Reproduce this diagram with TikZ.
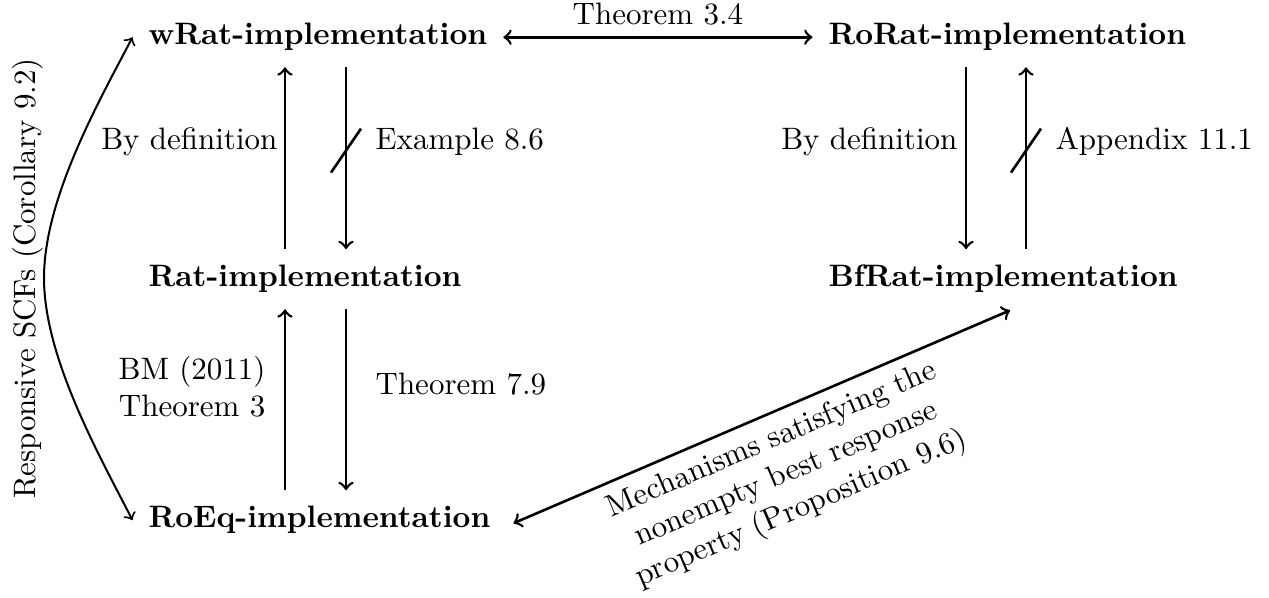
\documentclass[tikz,border=0pt]{standalone}
\usetikzlibrary{calc}
\begin{document}
\begin{tikzpicture}[x=0.3226pt, y=-0.3226pt,
  impl/.style={font=\bfseries, inner sep=5pt, text height=7pt, text depth=2pt, anchor=base west},
  lbl/.style={inner sep=0pt},
  arr/.style={->, line width=0.85pt},
  darr/.style={<->, line width=0.85pt},
  curvearr/.style={<->, line width=0.65pt},
  slashmark/.style={line width=0.85pt}]
\useasboundingbox (0,0) rectangle (1269,598);

% nodes
\node[impl] (wrat)  at (132.5,45)  {wRat-implementation};
\node[impl] (rat)   at (132.5,287) {Rat-implementation};
\node[impl] (roeq)  at (132.5,528) {RoEq-implementation};
\node[impl] (rorat) at (812.5,45)  {RoRat-implementation};
\node[impl] (bfrat) at (812.5,287) {BfRat-implementation};

% x positions of vertical connectors
\coordinate (cA) at (285,0);
\coordinate (cB) at (346,0);
\coordinate (cC) at (966,0);
\coordinate (cD) at (1026,0);

% top horizontal
\draw[darr] (wrat.east) -- (rorat.west) node[midway, above] {Theorem 3.4};

% left upper pair
\draw[arr] (rat.north -| cA) -- (wrat.south -| cA);
\draw[arr] (wrat.south -| cB) -- coordinate[pos=0.458] (sB) (rat.north -| cB);
\draw[slashmark] ($(sB)+(-15,22)$) -- ($(sB)+(15,-22)$);
\node[lbl, anchor=base east] (l1) at (278,150) {By definition};
\node[lbl, anchor=base west] (l2) at (375,150) {Example 8.6};

% left lower pair
\draw[arr] (roeq.north -| cA) -- (rat.south -| cA);
\draw[arr] (rat.south -| cB) -- (roeq.north -| cB);
\node[lbl, anchor=base east, align=right] (l3) at (266,417) {BM (2011)\\Theorem 3};
\node[lbl, anchor=base west] (l4) at (375,395) {Theorem 7.9};

% right pair
\draw[arr] (rorat.south -| cC) -- (bfrat.north -| cC);
\draw[arr] (bfrat.north -| cD) -- coordinate[pos=0.542] (sD) (rorat.south -| cD);
\draw[slashmark] ($(sD)+(-15,22)$) -- ($(sD)+(15,-22)$);
\node[lbl, anchor=base east] (l5) at (958,150) {By definition};
\node[lbl, anchor=base west] (l6) at (1055,150) {Appendix 11.1};

% diagonal
\draw[darr] ($(roeq.east)+(7,3)$) -- ($(bfrat.south)+(7,1)$)
  node[midway, below, sloped, align=center] {Mechanisms satisfying the\\nonempty best response\\property (Proposition 9.6)};

% curved connector
\draw[curvearr] (wrat.west) .. controls (99.7,100) and (44,198) .. (44,278)
  .. controls (44,358) and (99.7,456) .. (roeq.west);
\node[lbl, rotate=90, anchor=base] (l7) at (36,278.5) {Responsive SCFs (Corollary 9.2)};
\end{tikzpicture}
\end{document}
